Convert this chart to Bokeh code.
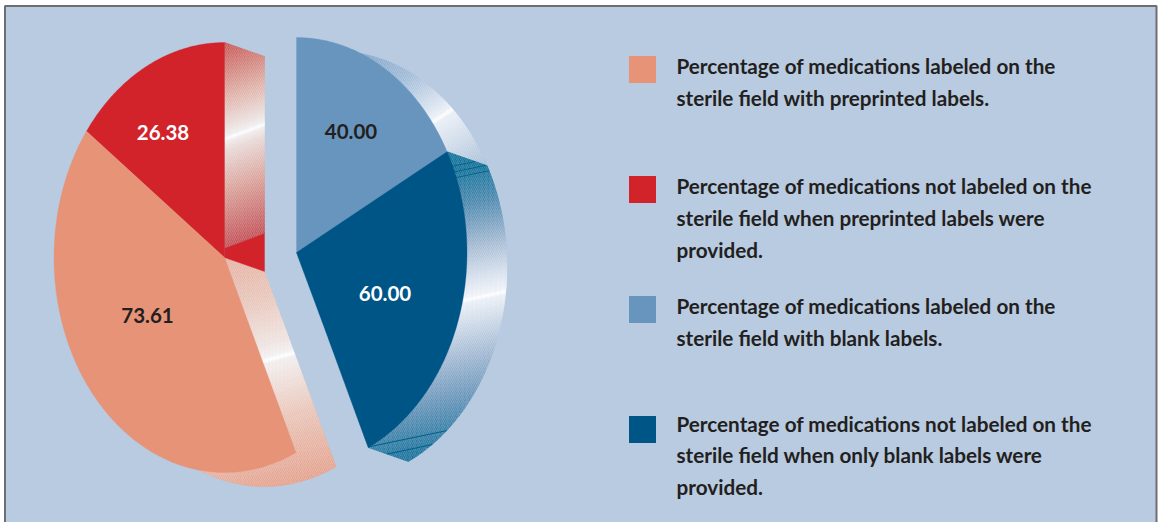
import numpy as np
from bokeh.plotting import figure
from bokeh.models import Range1d
from bokeh.core.properties import value
from bokeh.embed import file_html
from bokeh.resources import INLINE

# ---- data
preprinted_values = [26.38, 73.61]      # not labeled, labeled
blank_values = [40.00, 60.00]           # labeled, not labeled
preprinted_colors = ["#d2232a", "#e79377"]
blank_colors = ["#6895bd", "#005587"]
value_text_colors = ["#ffffff", "#231f20", "#231f20", "#ffffff"]
legend_colors = ["#e79377", "#d2232a", "#6895bd", "#005587"]
legend_labels = [
    ["Percentage of medications labeled on the", "sterile field with preprinted labels."],
    ["Percentage of medications not labeled on the", "sterile field when preprinted labels were", "provided."],
    ["Percentage of medications labeled on the", "sterile field with blank labels."],
    ["Percentage of medications not labeled on the", "sterile field when only blank labels were", "provided."],
]

# ---- layout (reference pixels)
W, H = 1159, 522
BG, BORDER, INK = "#b8cbe1", "#6d6e71", "#231f20"
PANEL = (4.5, 1156, 5.5)
LEFT_C, RIGHT_C = (224.0, 257.0), (296.0, 252.0)
RX, RY = 170.5, 215.0
OFF = (40.0, 14.0)
LEFT_SWEEP, RIGHT_SWEEP = 204.8, 155.1
value_pos = [(162.5, 131.5), (147, 314.5), (350.5, 130.5), (384.5, 292.5)]
legend_sq_y = [55.5, 175.5, 295.5, 415.5]
legend_line_y = [[65, 97], [185, 217, 249], [305, 337], [423, 454, 486]]
SQ = 27
LEGEND_SQ_X, LEGEND_TX = 628.5, 676

p = figure(width=W, height=H, output_backend="svg", toolbar_location=None,
           x_range=Range1d(0, W), y_range=Range1d(H, 0),
           x_axis_type=None, y_axis_type=None, min_border=0,
           background_fill_color="#ffffff", border_fill_color="#ffffff", outline_line_color=None)
p.grid.visible = False

p.quad(left=[PANEL[0]], right=[PANEL[1]], top=[PANEL[2]], bottom=[H], fill_color=BG, line_color=None)


def arc(c, t0, t1, sign, off=(0, 0), n=160):
    t = np.radians(np.linspace(t0, t1, n))
    return (c[0] + off[0] + sign * RX * np.sin(t), c[1] + off[1] - RY * np.cos(t))


def clip(poly, f, lo, hi):
    def half(pts, keep):
        out = []
        for i in range(len(pts)):
            a, b = pts[i], pts[(i + 1) % len(pts)]
            va, vb = keep(a), keep(b)
            if va >= 0:
                out.append(a)
            if (va >= 0) != (vb >= 0):
                u = va / (va - vb)
                out.append((a[0] + u * (b[0] - a[0]), a[1] + u * (b[1] - a[1])))
        return out
    pts = half(poly, lambda q: f(q) - lo)
    return half(pts, lambda q: hi - f(q)) if pts else pts


def gradient_band(xs, ys, k, x0, stops, step=1.0, rules=()):
    poly = list(zip(map(float, xs), map(float, ys)))
    f = lambda q: q[1] + k * (q[0] - x0)
    vals = [f(q) for q in poly]
    pos = [s[0] for s in stops]
    rgb = np.array([[int(s[1][i:i + 2], 16) for i in (1, 3, 5)] for s in stops], float)
    bx, by, bc = [], [], []
    s = min(vals)
    while s < max(vals):
        piece = clip(poly, f, s, s + step)
        if len(piece) >= 3:
            c = [np.interp(s + step / 2, pos, rgb[:, i]) for i in range(3)]
            bc.append("#%02x%02x%02x" % tuple(int(round(v)) for v in c))
            bx.append([q[0] for q in piece])
            by.append([q[1] for q in piece])
        s += step
    p.patches(bx, by, fill_color=bc, line_color=bc, line_width=0.4)
    p.patch(list(xs), list(ys), fill_alpha=0, line_alpha=0,
            hatch_pattern="right_diagonal_line", hatch_color="#ffffff",
            hatch_alpha=0.16, hatch_scale=4, hatch_weight=1)
    for r in rules:
        piece = clip(poly, f, r, r + 1.0)
        if len(piece) >= 3:
            p.patch([q[0] for q in piece], [q[1] for q in piece], fill_color="#005f8a", line_color=None)


# ---- angles from the values
red_end = LEFT_SWEEP * preprinted_values[0] / sum(preprinted_values)
blue_end = RIGHT_SWEEP * blank_values[0] / sum(blank_values)
lx, ly = LEFT_C
rx, ry = RIGHT_C
dx, dy = OFF

# rims, behind the faces
ax, ay = arc(LEFT_C, LEFT_SWEEP, 156, -1, OFF)
gradient_band([lx, lx + dx, *ax], [ly, ly + dy, *ay], 0.27, 263,
              [(245, "#e9b09e"), (300, "#edc9bc"), (345, "#f3e6e1"), (358, "#f8f4f3"), (360, "#ffffff"),
               (362, "#ffffff"), (364, "#f6f1ef"), (420, "#eec7b9"), (490, "#e8a18b")])

gradient_band([lx, lx + dx, lx + dx, lx], [ly - RY, ly - RY + dy, ly + dy - 38, ly - 9], 0.375, 224,
              [(42, "#c84e4a"), (95, "#e2aea2"), (128, "#efe2de"), (136.5, "#f6f2f0"), (138, "#ffffff"),
               (140, "#ffffff"), (141.5, "#f6f0ee"), (150, "#eddcd8"), (195, "#dc9c92"), (250, "#c4494f")])
p.patch([lx, lx + dx, lx + dx, lx], [ly - 9, ly + dy - 38, ly + dy, ly],
        fill_color=preprinted_colors[0], line_color=preprinted_colors[0], line_width=0.4)

ax, ay = arc(RIGHT_C, 6, blue_end, 1, OFF)
ex, ey = arc(RIGHT_C, blue_end, blue_end, 1, n=1)
gradient_band([*ax, ex[0], rx], [*ay, ey[0], ry], 0.65, 432,
              [(-3, "#7aa0c6"), (60, "#a0bbd8"), (105, "#dbe4f0"), (119, "#f0f3f8"), (121, "#ffffff"),
               (123, "#ffffff"), (125, "#eef2f8"), (165, "#cbd8e8"), (205, "#a3bbd6")])

ax, ay = arc(RIGHT_C, blue_end, RIGHT_SWEEP, 1, OFF)
fx, fy = arc(RIGHT_C, RIGHT_SWEEP, RIGHT_SWEEP, 1, n=1)
gradient_band([ex[0], *ax, fx[0], rx], [ey[0], *ay, fy[0], ry], 0.21, 463,
              [(170, "#0e7098"), (205, "#4a86ad"), (250, "#aabed5"), (285, "#e2e8f2"), (298, "#f4f6fa"),
               (299.5, "#ffffff"), (301, "#ffffff"), (302.5, "#f0f3f8"), (360, "#9db5d0"), (400, "#5f90b5"),
               (440, "#1a729c"), (470, "#0a6a94")],
              rules=(163, 169, 175, 426, 437))

# faces
for c, sign, t0, t1, col in [
    (LEFT_C, -1, 0, red_end, preprinted_colors[0]),
    (LEFT_C, -1, red_end, LEFT_SWEEP, preprinted_colors[1]),
    (RIGHT_C, 1, 0, blue_end, blank_colors[0]),
    (RIGHT_C, 1, blue_end, RIGHT_SWEEP, blank_colors[1]),
]:
    ax, ay = arc(c, t0, t1, sign)
    p.patch([c[0], *ax], [c[1], *ay], fill_color=col, line_color=col, line_width=0.3)

# value labels
vals = preprinted_values + blank_values
p.text([q[0] for q in value_pos], [q[1] for q in value_pos], text=[f"{v:.2f}" for v in vals],
       text_color=value_text_colors, text_font=value("Lato"), text_font_style="bold",
       text_font_size="20.5px", text_align="center", text_baseline="middle")

# legend
p.rect([LEGEND_SQ_X + SQ / 2] * 4, [y + SQ / 2 for y in legend_sq_y], width=SQ, height=SQ,
       fill_color=legend_colors, line_color=None)
tx, ty, tt = [], [], []
for lines, ypos in zip(legend_labels, legend_line_y):
    for s, y in zip(lines, ypos):
        tx.append(LEGEND_TX); ty.append(y); tt.append(s)
p.text(tx, ty, text=tt, text_color=INK, text_font=value("Lato"), text_font_style="bold",
       text_font_size="20.7px", text_align="left", text_baseline="middle")

# frame line
p.line([PANEL[0], PANEL[0], PANEL[1], PANEL[1]], [H, PANEL[2], PANEL[2], H], line_color=BORDER, line_width=2)

open("out.html", "w").write(file_html(p, INLINE))
